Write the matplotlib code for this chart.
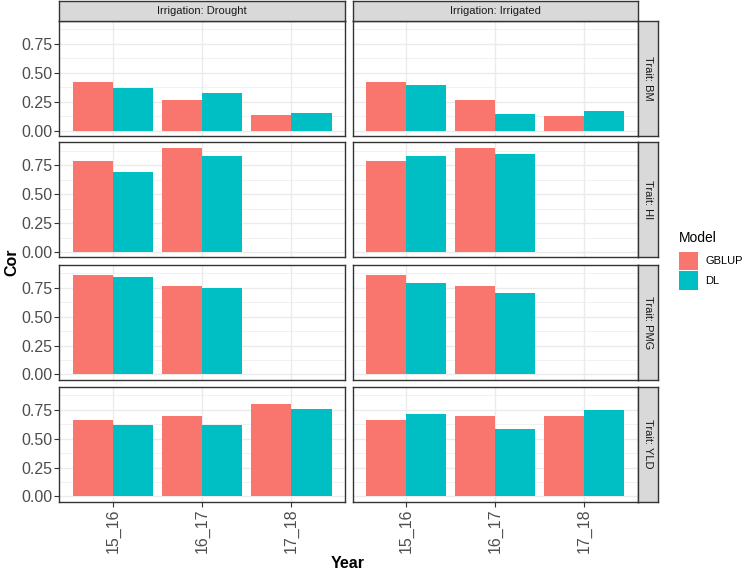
import numpy as np
import matplotlib
matplotlib.use('agg')
from matplotlib import pyplot as plt
from matplotlib.patches import Rectangle

plt.rcParams['font.family'] = ['Liberation Sans', 'DejaVu Sans']

years = ['15_16', '16_17', '17_18']
traits = ['BM', 'HI', 'PMG', 'YLD']
irrigations = ['Drought', 'Irrigated']
models = ['GBLUP', 'DL']
colors = {'GBLUP': '#F8766D', 'DL': '#00BFC4'}

nan = np.nan
# values per trait, per irrigation, per year
gblup_drought = {'BM': [0.425, 0.264, 0.140], 'HI': [0.784, 0.902, nan],
                 'PMG': [0.856, 0.765, nan], 'YLD': [0.659, 0.696, 0.799]}
dl_drought = {'BM': [0.373, 0.327, 0.151], 'HI': [0.695, 0.833, nan],
              'PMG': [0.845, 0.744, nan], 'YLD': [0.618, 0.618, 0.756]}
gblup_irrigated = {'BM': [0.425, 0.264, 0.125], 'HI': [0.784, 0.902, nan],
                   'PMG': [0.856, 0.765, nan], 'YLD': [0.659, 0.696, 0.696]}
dl_irrigated = {'BM': [0.399, 0.149, 0.169], 'HI': [0.830, 0.845, nan],
                'PMG': [0.790, 0.701, nan], 'YLD': [0.716, 0.586, 0.745]}

data = {
    ('Drought', 'GBLUP'): gblup_drought,
    ('Drought', 'DL'): dl_drought,
    ('Irrigated', 'GBLUP'): gblup_irrigated,
    ('Irrigated', 'DL'): dl_irrigated,
}

W, H = 748, 576
fig = plt.figure(figsize=(W / 100, H / 100), dpi=100)


def px_axes(x0, y0, x1, y1):
    return fig.add_axes([x0 / W, 1 - y1 / H, (x1 - x0) / W, (y1 - y0) / H])


def fx(x):
    return x / W


def fy(y):
    return 1 - y / H


col_x = [(59.3, 345.0), (352.7, 637.7)]
row_y = [(21, 136), (142.3, 257.3), (264.7, 379.7), (386.7, 501.7)]

ymax = 0.903
ylim = (-0.05 * ymax, 1.05 * ymax)
xpos = np.arange(1, len(years) + 1)
bw = 0.45
border = '#333333'

for r, trait in enumerate(traits):
    for c, irr in enumerate(irrigations):
        x0, x1 = col_x[c]
        y0, y1 = row_y[r]
        ax = px_axes(x0, y0, x1, y1)
        ax.set_facecolor('white')
        ax.set_axisbelow(True)
        for i, m in enumerate(models):
            vals = data[(irr, m)][trait]
            ax.bar(xpos + (i - 0.5) * bw, vals, width=bw, color=colors[m],
                   linewidth=0, zorder=2)
        ax.set_xlim(0.4, 3.6)
        ax.set_ylim(*ylim)
        ax.set_yticks([0, 0.25, 0.5, 0.75])
        ax.set_yticks([0.125, 0.375, 0.625, 0.875], minor=True)
        ax.set_xticks(xpos)
        ax.grid(which='major', color='#EBEBEB', linewidth=1.0)
        ax.grid(which='minor', axis='y', color='#EBEBEB', linewidth=0.5)
        ax.tick_params(which='minor', length=0)
        ax.tick_params(which='major', length=3.5, width=0.8, color=border,
                       labelcolor='#4D4D4D', labelsize=11.5, pad=1.5)
        for s in ax.spines.values():
            s.set_color(border)
            s.set_linewidth(1.0)
        if c == 0:
            ax.set_yticklabels(['0.00', '0.25', '0.50', '0.75'])
        else:
            ax.tick_params(axis='y', length=0, labelleft=False)
        if r == len(traits) - 1:
            ax.set_xticklabels(years, rotation=90)
        else:
            ax.tick_params(axis='x', length=0, labelbottom=False)

        # top strips
        if r == 0:
            sax = px_axes(x0, 1, x1, 21)
            sax.set_facecolor('#D9D9D9')
            sax.set_xticks([])
            sax.set_yticks([])
            for s in sax.spines.values():
                s.set_color(border)
                s.set_linewidth(1.0)
            sax.text(0.5, 0.5, 'Irrigation: ' + irr, ha='center', va='center',
                     fontsize=8, color='#1A1A1A', transform=sax.transAxes)
        # right strips
        if c == 1:
            sax = px_axes(637.7, y0, 658, y1)
            sax.set_facecolor('#D9D9D9')
            sax.set_xticks([])
            sax.set_yticks([])
            for s in sax.spines.values():
                s.set_color(border)
                s.set_linewidth(1.0)
            sax.text(0.5, 0.5, 'Trait: ' + trait, ha='center', va='center',
                     rotation=-90, fontsize=8, color='#1A1A1A',
                     transform=sax.transAxes)

fig.text(fx(12), fy(262), 'Cor', rotation=90, ha='center', va='center',
         fontsize=11.5, fontweight='bold')
fig.text(fx(348), fy(564), 'Year', ha='center', va='center',
         fontsize=11.5, fontweight='bold')

# legend, ggplot style
fig.text(fx(679), fy(242.3), 'Model', ha='left', va='baseline', fontsize=10)
key_top = 251.7
key_size = 19.5
for i, m in enumerate(models):
    top = key_top + i * key_size
    fig.add_artist(Rectangle((fx(679), fy(top + key_size - 1)),
                             fx(18.7), (key_size - 1) / H,
                             transform=fig.transFigure, facecolor=colors[m],
                             edgecolor='none'))
    fig.text(fx(705.5), fy(top + key_size / 2), m, ha='left', va='center',
             fontsize=8)

fig.savefig('out.png', dpi=100)
